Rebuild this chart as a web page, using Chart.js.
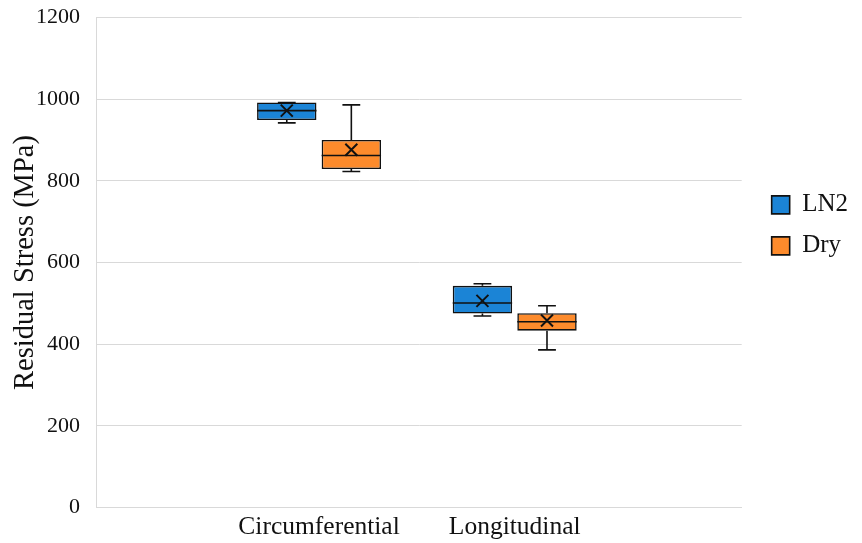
<!DOCTYPE html>
<html lang="en">
<head>
<meta charset="UTF-8">
<title>Residual Stress Box Plot</title>
<script src="https://cdn.jsdelivr.net/npm/chart.js"></script>
<style>
  body {
    margin: 0;
    padding: 0;
    background: #fff;
  }
  .chart-container {
    position: relative;
    width: 862px;
    height: 543px;
  }
</style>
</head>
<body>
  <div class="chart-container">
    <canvas id="boxChart"></canvas>
  </div>

  <script>
    // categories and y tick range
    const categories = ['Circumferential', 'Longitudinal'];
    const yTicks = [0, 200, 400, 600, 800, 1000, 1200];

    // LN2 series (MPa)
    const ln2Min = [942, 469];
    const ln2Q1 = [949, 475];
    const ln2Median = [972, 501];
    const ln2Q3 = [992, 543];
    const ln2Max = [992, 548];
    const ln2Mean = [972, 506];

    // Dry series (MPa)
    const dryMin = [823, 386];
    const dryQ1 = [829, 433];
    const dryMedian = [862, 455];
    const dryQ3 = [900, 476];
    const dryMax = [986, 494];
    const dryMean = [876, 458];

    const FONT = "'Liberation Serif', 'Times New Roman', serif";

    function boxData(q1, q3) {
      return categories.map((c, i) => ({ x: i + 1, y: [q1[i], q3[i]] }));
    }

    const stats = [
      { min: ln2Min, median: ln2Median, max: ln2Max, mean: ln2Mean, q1: ln2Q1, q3: ln2Q3 },
      { min: dryMin, median: dryMedian, max: dryMax, mean: dryMean, q1: dryQ1, q3: dryQ3 }
    ];

    // whiskers, median line and mean cross drawn on top of the floating bars
    const boxExtras = {
      id: 'boxExtras',
      afterDatasetsDraw(chart) {
        const ctx = chart.ctx;
        const yScale = chart.scales.y;
        chart.data.datasets.forEach((ds, d) => {
          const meta = chart.getDatasetMeta(d);
          const s = stats[d];
          meta.data.forEach((bar, i) => {
            const x = bar.x;
            const w = bar.width;
            const yMin = yScale.getPixelForValue(s.min[i]);
            const yMax = yScale.getPixelForValue(s.max[i]);
            const yQ1 = yScale.getPixelForValue(s.q1[i]);
            const yQ3 = yScale.getPixelForValue(s.q3[i]);
            const yMed = yScale.getPixelForValue(s.median[i]);
            const yMean = yScale.getPixelForValue(s.mean[i]);
            const cap = w * 0.3;

            ctx.save();
            ctx.strokeStyle = '#111';
            ctx.lineWidth = 1.6;
            ctx.beginPath();
            // upper whisker
            ctx.moveTo(x, yQ3);
            ctx.lineTo(x, yMax);
            ctx.moveTo(x - cap / 2, yMax);
            ctx.lineTo(x + cap / 2, yMax);
            // lower whisker
            ctx.moveTo(x, yQ1);
            ctx.lineTo(x, yMin);
            ctx.moveTo(x - cap / 2, yMin);
            ctx.lineTo(x + cap / 2, yMin);
            // median
            ctx.moveTo(x - w / 2, yMed);
            ctx.lineTo(x + w / 2, yMed);
            ctx.stroke();

            // mean marker
            const m = 6;
            ctx.lineWidth = 2;
            ctx.beginPath();
            ctx.moveTo(x - m, yMean - m);
            ctx.lineTo(x + m, yMean + m);
            ctx.moveTo(x + m, yMean - m);
            ctx.lineTo(x - m, yMean + m);
            ctx.stroke();
            ctx.restore();
          });
        });
      }
    };

    const ctx = document.getElementById('boxChart').getContext('2d');
    new Chart(ctx, {
      type: 'bar',
      data: {
        datasets: [{
          label: 'LN2',
          data: boxData(ln2Q1, ln2Q3),
          backgroundColor: '#1b84d6',
          borderColor: '#111',
          borderWidth: 1.6,
          borderSkipped: false,
          categoryPercentage: 0.66,
          barPercentage: 0.92
        }, {
          label: 'Dry',
          data: boxData(dryQ1, dryQ3),
          backgroundColor: '#fd8b2c',
          borderColor: '#111',
          borderWidth: 1.6,
          borderSkipped: false,
          categoryPercentage: 0.66,
          barPercentage: 0.92
        }]
      },
      options: {
        responsive: true,
        maintainAspectRatio: false,
        animation: false,
        layout: {
          padding: { top: 0, right: 4, bottom: 0, left: 0 }
        },
        plugins: {
          tooltip: { enabled: false },
          legend: {
            position: 'right',
            align: 'start',
            title: {
              display: true,
              text: '',
              padding: { top: 0, bottom: 162 }
            },
            labels: {
              boxWidth: 18,
              boxHeight: 18,
              padding: 16,
              color: '#111',
              font: { family: FONT, size: 25 }
            }
          }
        },
        scales: {
          x: {
            type: 'linear',
            min: -0.14,
            max: 3.16,
            offset: false,
            grid: { display: false, drawTicks: false },
            border: { color: '#d9d9d9' },
            afterBuildTicks(scale) {
              scale.ticks = categories.map((c, i) => ({ value: i + 1 }));
            },
            afterFit(scale) {
              scale.height = 35.5;
            },
            ticks: {
              color: '#111',
              padding: 4,
              font: { family: FONT, size: 25.5 },
              callback: (v) => categories[v - 1]
            }
          },
          y: {
            min: yTicks[0],
            max: yTicks[yTicks.length - 1],
            afterBuildTicks(scale) {
              scale.ticks = yTicks.map(v => ({ value: v }));
            },
            afterFit(scale) {
              scale.width = 96;
              scale.paddingTop = 17.5;
              scale.paddingBottom = 0;
            },
            grid: { color: '#d9d9d9', drawTicks: false },
            border: { color: '#d9d9d9' },
            ticks: {
              color: '#111',
              padding: 16,
              font: { family: FONT, size: 22 },
              callback: (v) => String(v)
            },
            title: {
              display: true,
              text: 'Residual Stress (MPa)',
              color: '#111',
              padding: { top: 11, bottom: 0 },
              font: { family: FONT, size: 28.5, lineHeight: 1.05 }
            }
          },
          // empty right-hand axis, only keeps a gap before the legend
          y2: {
            position: 'right',
            display: true,
            grid: { display: false },
            border: { display: false },
            ticks: { display: false },
            afterFit(scale) {
              scale.width = 14;
            }
          }
        }
      },
      plugins: [boxExtras]
    });
  </script>
</body>
</html>
